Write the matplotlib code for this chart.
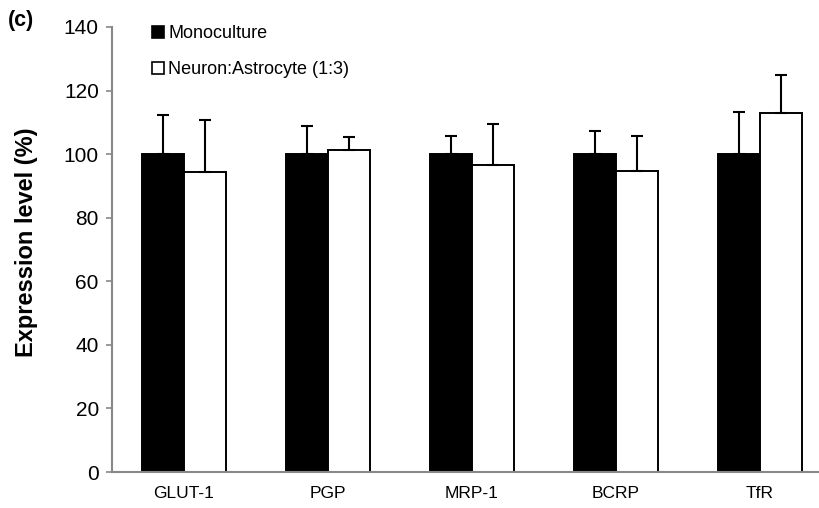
import matplotlib
matplotlib.use("Agg")
import matplotlib.pyplot as plt
import numpy as np
from matplotlib.patches import Patch

plt.rcParams['font.family'] = ['Liberation Sans', 'DejaVu Sans']

categories = ["GLUT-1", "PGP", "MRP-1", "BCRP", "TfR"]
mono = [100, 100, 100, 100, 100]
mono_err = [12.3, 8.8, 5.7, 7.2, 13.2]
coculture = [94.3, 101.3, 96.5, 94.7, 112.9]
coculture_err = [16.4, 4.0, 12.9, 11.0, 11.9]
yticks = [0, 20, 40, 60, 80, 100, 120, 140]
labels = ["Monoculture", "Neuron:Astrocyte (1:3)"]

fig = plt.figure(figsize=(8.2, 5.08), dpi=100)
ax = fig.add_axes([112/820, 36/508, 1 - 112/820, (472-27)/508])

x = np.arange(len(categories))
w = 0.29
ax.bar(x - w/2, mono, w, color='black', edgecolor='black', linewidth=1.4, zorder=2)
ax.bar(x + w/2, coculture, w, color='white', edgecolor='black', linewidth=1.4, zorder=2)
ax.errorbar(x - w/2, mono, yerr=[np.zeros(5), mono_err], fmt='none', ecolor='black',
            elinewidth=1.5, capsize=4, capthick=1.5, zorder=3)
ax.errorbar(x + w/2, coculture, yerr=[np.zeros(5), coculture_err], fmt='none', ecolor='black',
            elinewidth=1.5, capsize=4, capthick=1.5, zorder=3)

ax.set_xlim(-0.5, (820 - 185) / 143.75)
ax.set_ylim(0, 140)
ax.set_yticks(yticks)
ax.set_xticks(x)
ax.set_xticklabels(categories, fontsize=12.5)
ax.tick_params(axis='x', length=0, pad=10)
ax.tick_params(axis='y', length=4.5, width=1.2, color='#888888', labelsize=15, pad=5)
for s in ['top', 'right']:
    ax.spines[s].set_visible(False)
for s in ['left', 'bottom']:
    ax.spines[s].set_color('#888888')
    ax.spines[s].set_linewidth(1.5)
    ax.spines[s].set_zorder(4)

ax.set_ylabel("Expression level (%)", fontsize=17, fontweight='bold')
ax.yaxis.set_label_coords(-0.105, 0.517)

handles = [Patch(facecolor='black', edgecolor='black', linewidth=1.2),
           Patch(facecolor='white', edgecolor='black', linewidth=1.2)]
ax.legend(handles, labels, loc='upper left', bbox_to_anchor=(0.047, 1.02), frameon=False,
          fontsize=13, handlelength=0.62, handleheight=0.62, handletextpad=0.25,
          labelspacing=1.05, borderaxespad=0)

fig.text(8/820, 1 - 10/508, "(c)", fontsize=15.5, fontweight='bold', va='top', ha='left')

fig.savefig("out.png", dpi=100)
